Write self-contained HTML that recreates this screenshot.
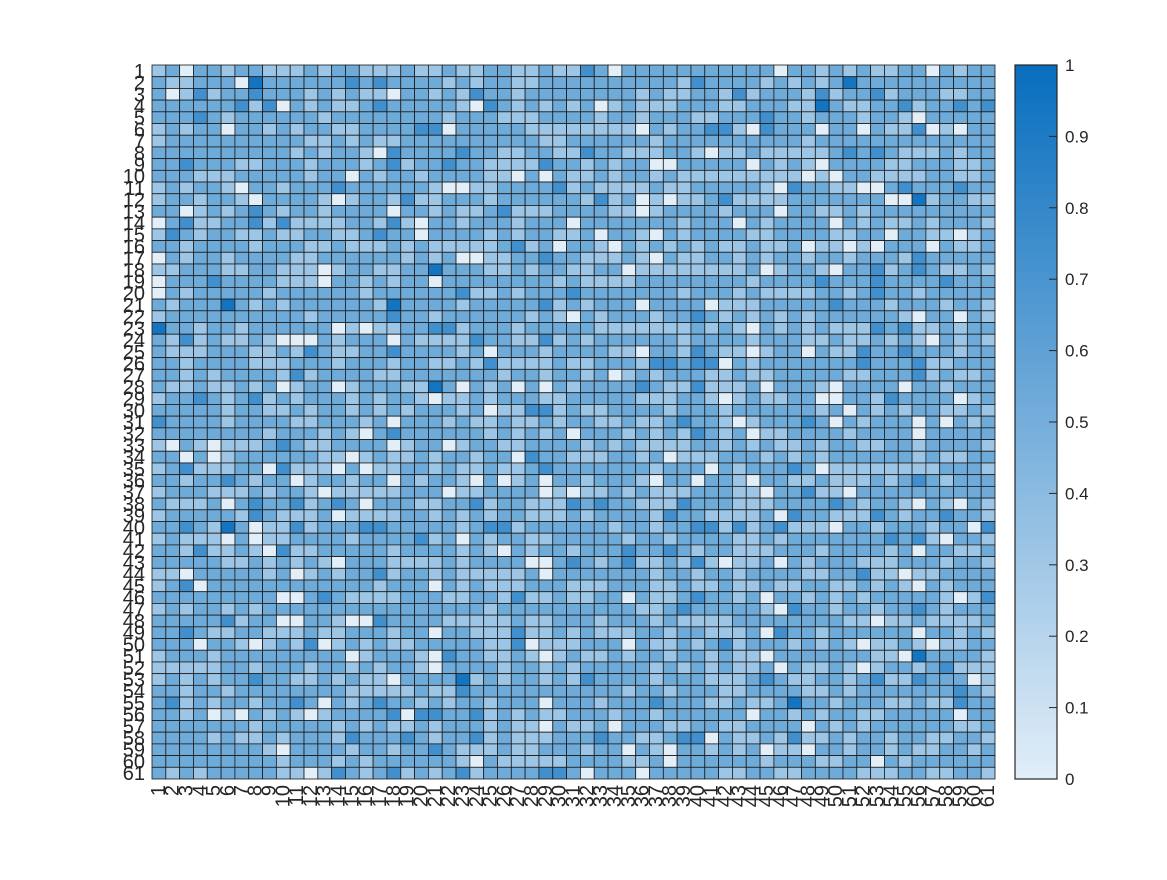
<!DOCTYPE html>
<html><head><meta charset="utf-8">
<style>
html,body{margin:0;padding:0;background:#fff;}
body{width:1167px;height:875px;overflow:hidden;}
svg text{font-family:"Liberation Sans",sans-serif;fill:#262626;}
</style></head>
<body>
<svg id="chart" width="1167" height="875" xmlns="http://www.w3.org/2000/svg">
<g id="cells"></g>
<g id="ylabels"></g>
<g id="xlabels"></g>
<defs><linearGradient id="cbgrad" x1="0" y1="1" x2="0" y2="0">
<stop offset="0" stop-color="rgb(226,238,248)"/><stop offset="0.5" stop-color="rgb(117,174,219)"/><stop offset="1" stop-color="rgb(8,110,190)"/></linearGradient></defs>
<rect x="1015" y="65" width="42" height="714" fill="url(#cbgrad)" stroke="#262626" stroke-width="1.2"/>
<g id="cbticks"></g>
</svg>
<script>
const leftCols = [
"350553553335355333533","533555095555557575555","503735575553535330553","555555737053533575555","555753555555355555555",
"353550553535533555577","355555555553353533555","555555555535355307555","557555335553555357355","555333555553550535535",
"353553055355575555553","355355305555303553733","550353575355355550553","057335573733335537305","375355335335533575505",
"553555535553353335353","053553555533555555353","335553355333035533559","055575555333055353550","053555553555555355555",
"535559535355555539555","355555555553555557553","955355355555503033557","537353353000535550533","533355533537533557555",
"553555533355535553553","553535555373555533555","533533535035503555339","355753573535553535530","555553553353553535355",
"755553555533555350555","555555553555353057555","305303335753355550355","550503555555330353353","357333550733305033553",
"553557535503553550535","355533353553033333555","533350575573575055533","355555375333503333553","557539503373555775555",
"353330503355553555573","553733530733555553555","555553353535305553333","330555553503535573553","357055555555555535550",
"555555555005753333555","353553535555555555555","555557355005530075555","557533553335335553550","555055303537035353355",
"355535555555550355530","333335535553553535530","353535575533535330555","553553555555553333353","573535535575053575535",
"553503053530355557077","555555535555535353353","555535335355537555753","555555553055553553557","555555555355535355555",
"535355555330375357353"];
const midCols = [
"53355335337505555555","35355335555555555375","53755355555555353355","53075353535035333555","35553335555355355533",
"05555533333333053557","55555553355555535555","57553355337553335530","75533337553535500555","55533050533535535333",
"00335555735333353355","55535555553735030335","53357333555533035555","53555355505555555355","55535355335055305355",
"33335735055305353535","50033557553335305335","55533535533550333333","55555555353333555555","57335355575555555355",
"53555557353555055550",
"55555535305355535575","73555355555333333353","33755337353555555355","53505553555533055375","35373333533555377577",
"55553553553503535553","50535050535555753373","33535553355555333553","53503377353355553555","35335335355335335755",
"55535353505553535375","03553355553535333355","55355075533355350333","53353357555555535550","53050350553555305505",
"03355550303353533355","55735533375755333755","53535533353555537553","53577355555535535577","50535533555553553555",
"53530535535557557535","53555500575357335373","53333350555555535535","53533355533355533533","33553733533550533575",
"55535555555555335755","33333533555355535333","55333733535333553553","55533703335550533535","75533530353353553553",
"55553553535555535353","59353553537555535553","37555555555553553555","35535550555355575553","55735353355535535555",
"55535330533505553355","55735333555755335770","53335335553550530553","53053333355553350555","57355557750555055555"];
const rightCols = [
"55550553535335505355","55535353595555555555","37355537355735553355","33555339533557355757","55575535553553055555",
"73075550550533703055","55555535555555555555","33533333575753335355","55053530555533555335","33333303055333355335",
"55530755330057555755","73333555555500935533","35550553353555555555","50535555053533535553","55335555335505533035",
"33533503303055505335","53535535535553755555","33503553055735753353","55355557555755557555","53533335535755355555",
"33355555755535553553",
"35353535555553055053","53053535333757335355","55355533533535305353","33035505337557555355","05355555557555733555",
"35335555533555735335","33505553055550553555","03533550055375555035","35555553505353553353","30355575053555050535",
"35033555535555055555","35353353553355355553","55535353555555353355","53555750333333335553","53055335333535753555",
"53305573305555555555","53335555753553053053","33350755333753557553","37357333055355535507","53353555555575730553",
"53335553555535055335","03350535553335553553","53555533557330335555","53353355335353053555","53505535353555553037",
"55530755355355753555","35555555533033533335","33507553555555055353","73555353530335303355","53305555555330955553",
"53350533530355357333","33575335535733755503","33555533535555555753","35335955355533533755","55055353553355555055",
"33555505353555555335","53353733535535533553","53503305535535335535","55535553355053555555","33553355553335533553"];
const rowLabels = Array.from({length:61},(_,i)=>String(i+1));
const colLabels = Array.from({length:61},(_,i)=>String(i+1));
const cbTicks = [0,0.1,0.2,0.3,0.4,0.5,0.6,0.7,0.8,0.9,1];

const X0=152,X1=995,Y0=65,Y1=779,N=61;
const cw=(X1-X0)/N, ch=(Y1-Y0)/N;
const xPos=c=>X0+c*cw, yPos=r=>Y0+r*ch;
const cbY=v=>Y1-v*(Y1-Y0);
function color(v){
  const a=[226,238,248],m=[117,174,219],b=[8,110,190];
  let p,q,t; if(v<0.5){p=a;q=m;t=v/0.5;}else{p=m;q=b;t=(v-0.5)/0.5;}
  return `rgb(${p.map((x,i)=>Math.round(x+(q[i]-x)*t)).join(',')})`;
}
const seg=(s,n)=>(s||'').padEnd(n,'5').slice(0,n);
const vals=[];
for(let r=0;r<N;r++){
  const s=seg(leftCols[r],21)+seg(midCols[r],20)+seg(rightCols[r],20);
  vals.push(s.split('').map(d=>(+d)/9.5));
}
const NS='http://www.w3.org/2000/svg';
const cells=document.getElementById('cells');
for(let r=0;r<N;r++)for(let c=0;c<N;c++){
  const el=document.createElementNS(NS,'rect');
  
  
  el.setAttribute('x',xPos(c));el.setAttribute('y',yPos(r));
  el.setAttribute('width',cw);el.setAttribute('height',ch);
  el.setAttribute('fill',color(vals[r][c]));
  el.setAttribute('stroke','#1a1a1a');el.setAttribute('stroke-width','0.8');
  cells.appendChild(el);
}
const yl=document.getElementById('ylabels');
rowLabels.forEach((t,i)=>{
  const el=document.createElementNS(NS,'text');
  
  
  el.setAttribute('x',145);el.setAttribute('y',yPos(i)+ch/2+7);
  el.setAttribute('text-anchor','end');el.setAttribute('font-size','20');
  el.textContent=t;yl.appendChild(el);
});
const xl=document.getElementById('xlabels');
colLabels.forEach((t,i)=>{
  const el=document.createElementNS(NS,'text');
  
  
  const x=xPos(i)+cw/2+6, y=785;
  el.setAttribute('x',x);el.setAttribute('y',y);
  el.setAttribute('text-anchor','end');el.setAttribute('font-size','20');
  el.setAttribute('transform',`rotate(-90 ${x} ${y})`);
  el.textContent=t;xl.appendChild(el);
});
const cb=document.getElementById('cbticks');
cbTicks.forEach(v=>{
  const ln=document.createElementNS(NS,'line');
  
  
  ln.setAttribute('x1',1049);ln.setAttribute('x2',1057);
  ln.setAttribute('y1',cbY(v));ln.setAttribute('y2',cbY(v));
  ln.setAttribute('stroke','#262626');cb.appendChild(ln);
  const el=document.createElementNS(NS,'text');
  
  
  el.setAttribute('x',1065);el.setAttribute('y',cbY(v)+6);
  el.setAttribute('font-size','17');
  el.textContent=String(v);cb.appendChild(el);
});
</script>
</body></html>
